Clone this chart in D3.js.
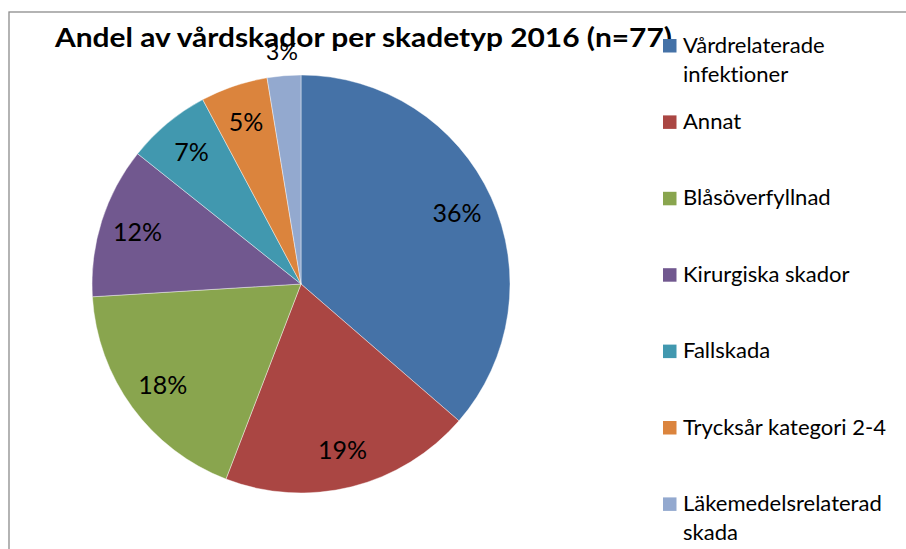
<!DOCTYPE html>
<html>
<head>
<meta charset="utf-8">
<script src="https://cdn.jsdelivr.net/npm/d3@7"></script>
<style>
  body { margin: 0; background: #fff; }
  svg { display: block; }
  text { font-variant-ligatures: none; font-feature-settings: "liga" 0, "clig" 0; }
</style>
</head>
<body>
<svg id="chart" width="906" height="549"></svg>
<script>
// data
let titleText = 'Andel av vårdskador per skadetyp 2016  (n=77)'
let categories = ['Vårdrelaterade infektioner', 'Annat', 'Blåsöverfyllnad', 'Kirurgiska skador',
  'Fallskada', 'Trycksår kategori 2-4', 'Läkemedelsrelaterad skada']
let counts = [28, 15, 14, 9, 5, 4, 2]          // n = 77
let pctLabels = ['36%', '19%', '18%', '12%', '7%', '5%', '3%']   // as printed on the slices
// legend lines (wrapped like in the original)
let legendLines = [['Vårdrelaterade', 'infektioner'], ['Annat'], ['Blåsöverfyllnad'], ['Kirurgiska skador'],
  ['Fallskada'], ['Trycksår kategori 2-4'], ['Läkemedelsrelaterad', 'skada']]
let colors = ['#4572A7', '#AA4643', '#89A54E', '#71588F', '#4198AF', '#DB843D', '#93A9CF']

let fontFam = 'Lato, "Open Sans", "Noto Sans", sans-serif'

let svg = d3.select('#chart')

// frame
svg.append('rect')
  .attr('x', 9).attr('y', 12)
  .attr('width', 1000).attr('height', 1000)
  .attr('fill', 'none')
  .attr('stroke', '#8c8c8c')
  .attr('stroke-width', 1.3)

// fit a text to a share of its natural width
function fitWidth(sel, k) {
  sel.each(function() {
    let w = this.getComputedTextLength()
    d3.select(this).attr('textLength', w * k).attr('lengthAdjust', 'spacingAndGlyphs')
  })
}

// ---- pie
let cx = 301, cy = 284, R = 209
let total = d3.sum(counts)

let pie = d3.pie().sort(null).value(d => d)
let arcs = pie(counts)

let arc = d3.arc().innerRadius(0).outerRadius(R)
let labelArc = d3.arc().innerRadius(R * 0.82).outerRadius(R * 0.82)
let outArc = d3.arc().innerRadius(R + 24).outerRadius(R + 24)

let pieG = svg.append('g').attr('transform', `translate(${cx},${cy})`)

pieG.selectAll('path').data(arcs)
  .enter()
  .append('path')
  .attr('d', arc)
  .attr('fill', (d, i) => colors[i])
  .attr('stroke', '#ffffff')
  .attr('stroke-width', 0.6)
  .attr('stroke-opacity', 0.7)

pieG.selectAll('text').data(arcs)
  .enter()
  .append('text')
  .attr('transform', d => {
    // small slices get their label outside (best fit)
    let p = (d.value / total < 0.04) ? outArc.centroid(d) : labelArc.centroid(d)
    return `translate(${p[0]},${p[1]})`
  })
  .attr('text-anchor', 'middle')
  .attr('dy', '0.36em')
  .attr('font-family', fontFam)
  .attr('font-size', d => (d.value / total < 0.04) ? '23px' : '25px')
  .attr('fill', '#000')
  .text((d, i) => pctLabels[i])

// ---- title
let title = svg.append('text')
  .attr('x', 55)
  .attr('y', 47)
  .attr('font-family', fontFam)
  .attr('font-weight', 'bold')
  .attr('font-size', '27px')
  .attr('fill', '#000')
  .text(titleText)
title.attr('textLength', 617).attr('lengthAdjust', 'spacingAndGlyphs')

// ---- legend
let legY = d3.scaleLinear().domain([0, 1]).range([52.5, 128.9])

let leg = svg.append('g').attr('class', 'legend')

let items = leg.selectAll('g').data(categories)
  .enter()
  .append('g')
  .attr('transform', (d, i) => `translate(663,${legY(i)})`)

items.append('rect')
  .attr('x', 0).attr('y', -13.5)
  .attr('width', 13.5).attr('height', 13.5)
  .attr('fill', (d, i) => colors[i])

let legTexts = items.append('text')
  .attr('x', 20)
  .attr('font-family', fontFam)
  .attr('font-size', '21.5px')
  .attr('fill', '#000')

legTexts.selectAll('tspan')
  .data((d, i) => legendLines[i])
  .enter()
  .append('tspan')
  .attr('x', 20)
  .attr('y', (d, j) => j * 29.2)
  .text(d => d)

// stretch every line the same way so the widest one is as wide as in the original
let tsp = legTexts.selectAll('tspan')
let widest = d3.max(tsp.nodes(), n => n.getComputedTextLength())
fitWidth(tsp, 203 / widest)
</script>
</body>
</html>
